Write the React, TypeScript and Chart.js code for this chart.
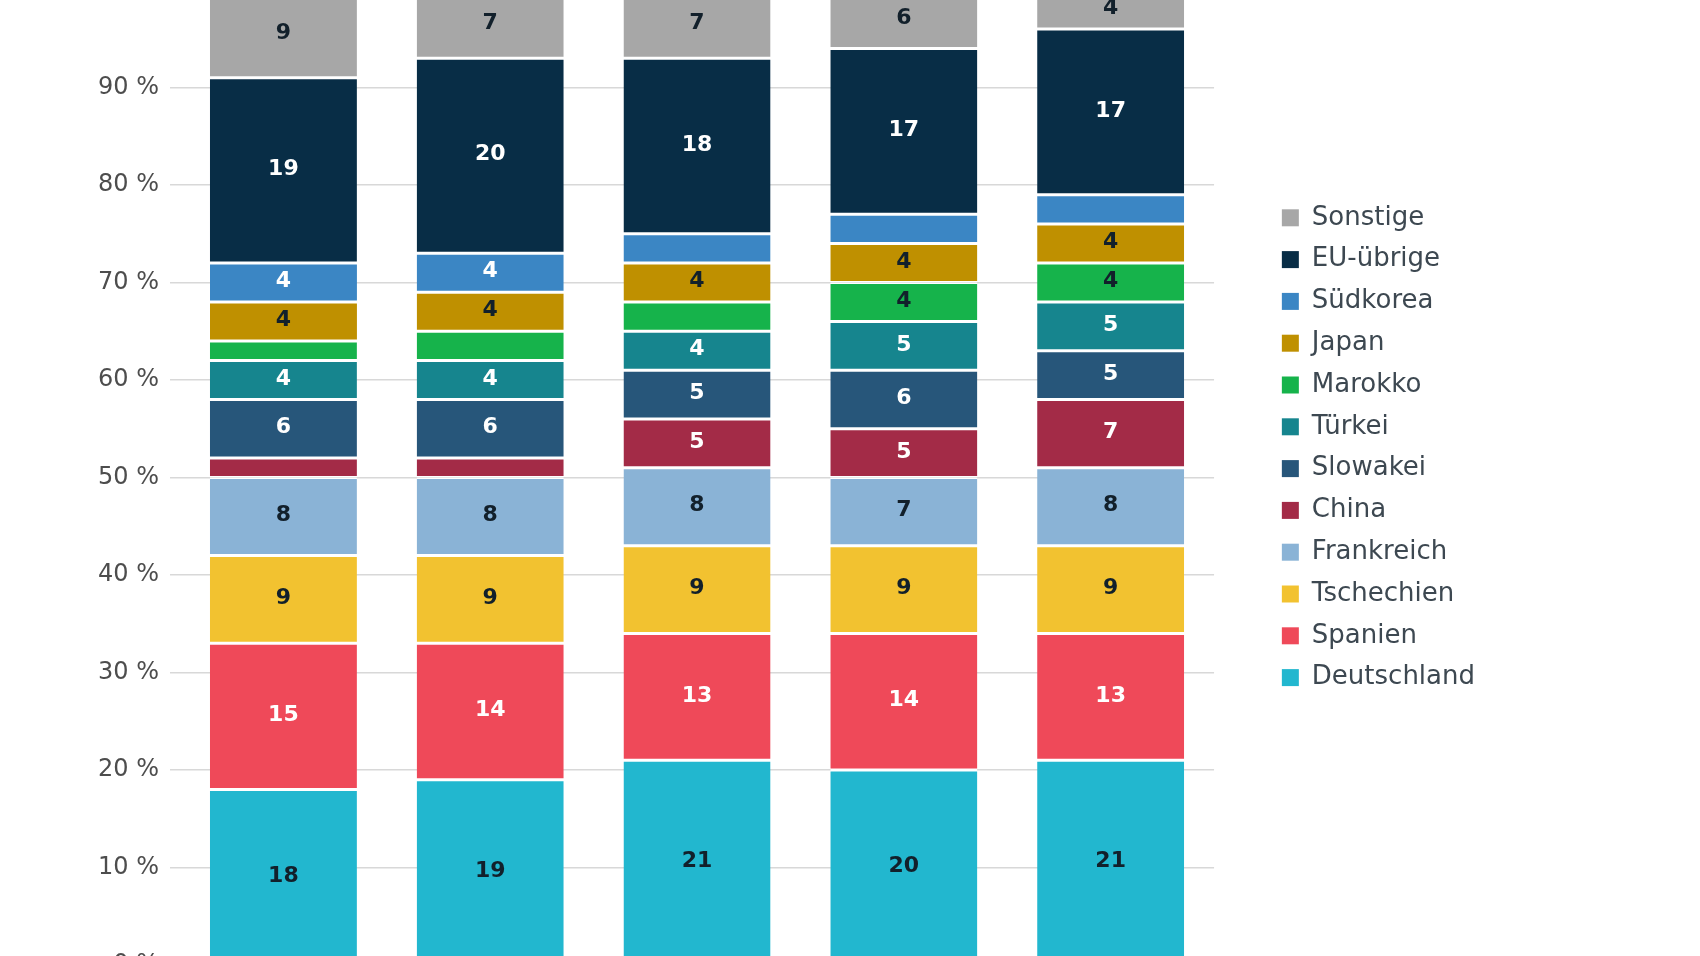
import React, { useEffect, useRef } from "react";
import { Chart, registerables } from "chart.js";

Chart.register(...registerables);

const categories = ["2019", "2020", "2021", "2022", "2023"];

const seriesNames = [
  "Deutschland",
  "Spanien",
  "Tschechien",
  "Frankreich",
  "China",
  "Slowakei",
  "Türkei",
  "Marokko",
  "Japan",
  "Südkorea",
  "EU-übrige",
  "Sonstige",
];

const deutschland = [18, 19, 21, 20, 21];
const spanien = [15, 14, 13, 14, 13];
const tschechien = [9, 9, 9, 9, 9];
const frankreich = [8, 8, 8, 7, 8];
const china = [2, 2, 5, 5, 7];
const slowakei = [6, 6, 5, 6, 5];
const tuerkei = [4, 4, 4, 5, 5];
const marokko = [2, 3, 3, 4, 4];
const japan = [4, 4, 4, 4, 4];
const suedkorea = [4, 4, 3, 3, 3];
const euUebrige = [19, 20, 18, 17, 17];
const sonstige = [9, 7, 7, 6, 4];

const seriesValues = [
  deutschland,
  spanien,
  tschechien,
  frankreich,
  china,
  slowakei,
  tuerkei,
  marokko,
  japan,
  suedkorea,
  euUebrige,
  sonstige,
];

const seriesColors = [
  "#22b7cf",
  "#ef4959",
  "#f2c230",
  "#8ab3d6",
  "#a32b47",
  "#27567a",
  "#16858e",
  "#16b34b",
  "#bf9000",
  "#3b86c4",
  "#082d46",
  "#a7a7a7",
];

const DARK = "#12202b";
const WHITE = "#ffffff";
const labelColors = [DARK, WHITE, DARK, DARK, WHITE, WHITE, WHITE, DARK, DARK, WHITE, WHITE, DARK];

const yTicks = [0, 10, 20, 30, 40, 50, 60, 70, 80, 90, 100];

const FONT = "'DejaVu Sans', 'Noto Sans', sans-serif";

const segLabels = {
  id: "segLabels",
  afterDatasetsDraw(chart: any) {
    const ctx = chart.ctx;
    ctx.save();
    ctx.font = `bold 22px ${FONT}`;
    ctx.textAlign = "center";
    ctx.textBaseline = "middle";
    chart.data.datasets.forEach((ds: any, di: number) => {
      const meta = chart.getDatasetMeta(di);
      if (meta.hidden) return;
      meta.data.forEach((el: any, i: number) => {
        const v = ds.data[i];
        if (v < 4) return;
        const p = el.getProps(["x", "y", "base"], true);
        ctx.fillStyle = labelColors[di];
        ctx.fillText(String(v), p.x, (p.y + p.base) / 2 - 1);
      });
    });
    ctx.restore();
  },
};

export default function App() {
  const ref = useRef<HTMLCanvasElement | null>(null);

  useEffect(() => {
    if (!ref.current) return;
    const chart = new Chart(ref.current, {
      type: "bar",
      data: {
        labels: categories,
        datasets: seriesNames.map((name, i) => ({
          label: name,
          data: seriesValues[i],
          backgroundColor: seriesColors[i],
          borderColor: "#ffffff",
          borderWidth: { top: 1.5, bottom: 1.5, left: 0, right: 0 },
          borderSkipped: false,
          yAxisID: "y",
          xAxisID: "x",
          barPercentage: 0.711,
          categoryPercentage: 1,
        })),
      },
      options: {
        animation: false,
        responsive: true,
        maintainAspectRatio: false,
        layout: { padding: { top: 40, bottom: 40, left: 83, right: 215 } },
        scales: {
          x: {
            stacked: true,
            display: false,
          },
          y: {
            stacked: true,
            position: "left",
            min: 0,
            max: 100,
            afterBuildTicks: (s: any) => {
              s.ticks = yTicks.map((v) => ({ value: v }));
            },
            afterFit: (s: any) => {
              s.width = 97;
            },
            ticks: {
              padding: 11,
              color: "#4d4d4d",
              font: { family: FONT, size: 24 },
              callback: (v: any) => `${v} %`,
            },
            grid: {
              color: "#d8d8d8",
              lineWidth: 1.5,
              drawTicks: true,
              tickLength: 10,
            },
            border: { display: false },
          },
          y2: {
            position: "right",
            display: true,
            grid: { display: false, drawTicks: false },
            ticks: { display: false },
            border: { display: false },
            afterFit: (s: any) => {
              s.width = 52;
            },
          },
        },
        plugins: {
          tooltip: { enabled: false },
          legend: {
            position: "right",
            align: "start",
            reverse: true,
            title: {
              display: true,
              text: "",
              font: { family: FONT, size: 10 },
              padding: { top: 0, bottom: 187 },
            },
            labels: {
              boxWidth: 17,
              boxHeight: 17,
              padding: 15.8,
              color: "#3d4851",
              font: { family: FONT, size: 26 },
              generateLabels: (c: any) => {
                const items = Chart.defaults.plugins.legend.labels.generateLabels(c);
                return items.map((it: any) => ({
                  ...it,
                  lineWidth: 0,
                  strokeStyle: it.fillStyle,
                }));
              },
            },
          },
        },
      },
      plugins: [segLabels],
    });
    return () => chart.destroy();
  }, []);

  return (
    <div
      style={{
        position: "fixed",
        left: 0,
        top: 0,
        width: 1700,
        height: 956,
        overflow: "hidden",
        background: "#ffffff",
      }}
    >
      <div style={{ position: "absolute", left: 0, top: -50, width: 1700, height: 1055 }}>
        <canvas ref={ref} />
      </div>
    </div>
  );
}
